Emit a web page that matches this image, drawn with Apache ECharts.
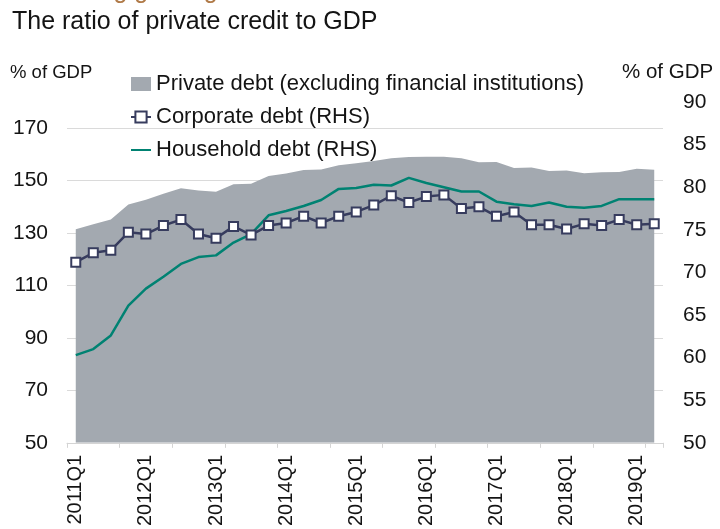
<!DOCTYPE html>
<html>
<head>
<meta charset="utf-8">
<script src="https://cdn.jsdelivr.net/npm/echarts@6/dist/echarts.min.js"></script>
<style>
  html, body { margin: 0; padding: 0; background: #ffffff; }
  #chart { width: 720px; height: 529px; }
</style>
</head>
<body>
<div id="chart"></div>
<script>
// Quarterly periods, 2011Q1 to 2019Q2
const quarters = [];
for (let y = 2011; y <= 2019; y++) {
  for (let q = 1; q <= 4; q++) {
    if (y === 2019 && q > 2) break;
    quarters.push(y + 'Q' + q);
  }
}

// Private debt excluding financial institutions, % of GDP (left axis)
const privateDebt = [
  131.5, 133.4, 135.2, 140.9, 142.7, 145.0, 147.1, 146.2, 145.8, 148.6,
  148.8, 151.8, 152.7, 154.1, 154.3, 155.9, 156.6, 157.5, 158.5, 159.0,
  159.1, 159.1, 158.5, 157.0, 157.1, 154.8, 155.0, 153.7, 153.9, 152.8,
  153.2, 153.3, 154.5, 154.2
];

// Corporate debt, % of GDP (right axis)
const corporateDebt = [
  71.2, 72.3, 72.6, 74.7, 74.5, 75.5, 76.2, 74.5, 74.0, 75.4,
  74.4, 75.5, 75.8, 76.6, 75.8, 76.6, 77.1, 77.9, 79.0, 78.2,
  78.9, 79.1, 77.5, 77.7, 76.6, 77.1, 75.6, 75.6, 75.1, 75.7,
  75.5, 76.2, 75.6, 75.7
];

// Household debt, % of GDP (right axis)
const householdDebt = [
  60.3, 61.0, 62.6, 66.1, 68.1, 69.5, 71.0, 71.8, 72.0, 73.5,
  74.5, 76.7, 77.2, 77.8, 78.5, 79.8, 79.9, 80.3, 80.2, 81.1,
  80.5, 80.0, 79.5, 79.5, 78.3, 78.0, 77.8, 78.2, 77.7, 77.6,
  77.8, 78.6, 78.6, 78.6
];

const FONT = '"Liberation Sans", Arial, sans-serif';
const INK = '#141414';
const NAVY = '#373c5e';
const TEAL = '#008272';
const GREY = '#a3a9b0';

const chart = echarts.init(document.getElementById('chart'), null, { renderer: 'canvas' });

chart.setOption({
  animation: false,
  backgroundColor: '#ffffff',
  textStyle: { fontFamily: FONT },
  title: [
    {
      text: 'Increasing gearing',
      left: 12, top: -21, padding: 0,
      textStyle: { fontFamily: FONT, fontSize: 25, fontWeight: 'normal', color: '#b07a48' }
    },
    {
      text: 'The ratio of private credit to GDP',
      left: 12, top: 10, padding: 0,
      textStyle: { fontFamily: FONT, fontSize: 25, fontWeight: 'normal', color: INK }
    },
    {
      text: '% of GDP',
      left: 10, top: 63, padding: 0,
      textStyle: { fontFamily: FONT, fontSize: 18.5, fontWeight: 'normal', color: INK }
    },
    {
      text: '% of GDP',
      left: 622, top: 62, padding: 0,
      textStyle: { fontFamily: FONT, fontSize: 20.5, fontWeight: 'normal', color: INK }
    }
  ],
  legend: {
    orient: 'vertical',
    left: 130,
    top: 73,
    padding: 0,
    itemGap: 11,
    itemWidth: 20,
    itemHeight: 14,
    textStyle: { fontFamily: FONT, fontSize: 22, color: INK },
    data: [
      { name: 'Private debt (excluding financial institutions)', icon: 'rect' },
      { name: 'Corporate debt (RHS)' },
      { name: 'Household debt (RHS)', itemStyle: { opacity: 0 } }
    ]
  },
  grid: { left: 67, right: 57, top: 102, bottom: 83 },
  xAxis: {
    type: 'category',
    data: quarters,
    boundaryGap: true,
    axisLine: { lineStyle: { color: '#d4d4d4', width: 1 } },
    axisTick: { show: true, interval: 2, length: 5, lineStyle: { color: '#d4d4d4' } },
    axisLabel: {
      interval: 3,
      rotate: 90,
      margin: 12,
      fontFamily: FONT,
      fontSize: 20,
      color: INK
    },
    splitLine: { show: false }
  },
  yAxis: [
    {
      type: 'value',
      min: 50, max: 180, interval: 20,
      axisLine: { show: false },
      axisTick: { show: false },
      axisLabel: {
        showMaxLabel: false,
        margin: 19,
        fontFamily: FONT, fontSize: 21, color: INK
      },
      splitLine: { show: true, showMinLine: false, showMaxLine: false, lineStyle: { color: '#dadada', width: 1 } }
    },
    {
      type: 'value',
      min: 50, max: 90, interval: 5,
      position: 'right',
      axisLine: { show: false },
      axisTick: { show: false },
      axisLabel: { margin: 20, fontFamily: FONT, fontSize: 21, color: INK },
      splitLine: { show: false }
    }
  ],
  series: [
    {
      name: 'Private debt (excluding financial institutions)',
      type: 'line',
      yAxisIndex: 0,
      data: privateDebt,
      symbol: 'none',
      lineStyle: { width: 0 },
      itemStyle: { color: GREY },
      areaStyle: { color: GREY, opacity: 1 },
      z: 1
    },
    {
      name: 'Corporate debt (RHS)',
      type: 'line',
      yAxisIndex: 1,
      data: corporateDebt,
      symbol: 'rect',
      symbolSize: 9,
      showAllSymbol: true,
      lineStyle: { color: NAVY, width: 2.5 },
      itemStyle: { color: '#ffffff', borderColor: NAVY, borderWidth: 2 },
      z: 3
    },
    {
      name: 'Household debt (RHS)',
      type: 'line',
      yAxisIndex: 1,
      data: householdDebt,
      symbol: 'none',
      lineStyle: { color: TEAL, width: 2.5 },
      itemStyle: { color: TEAL },
      z: 2
    }
  ]
});
</script>
</body>
</html>
